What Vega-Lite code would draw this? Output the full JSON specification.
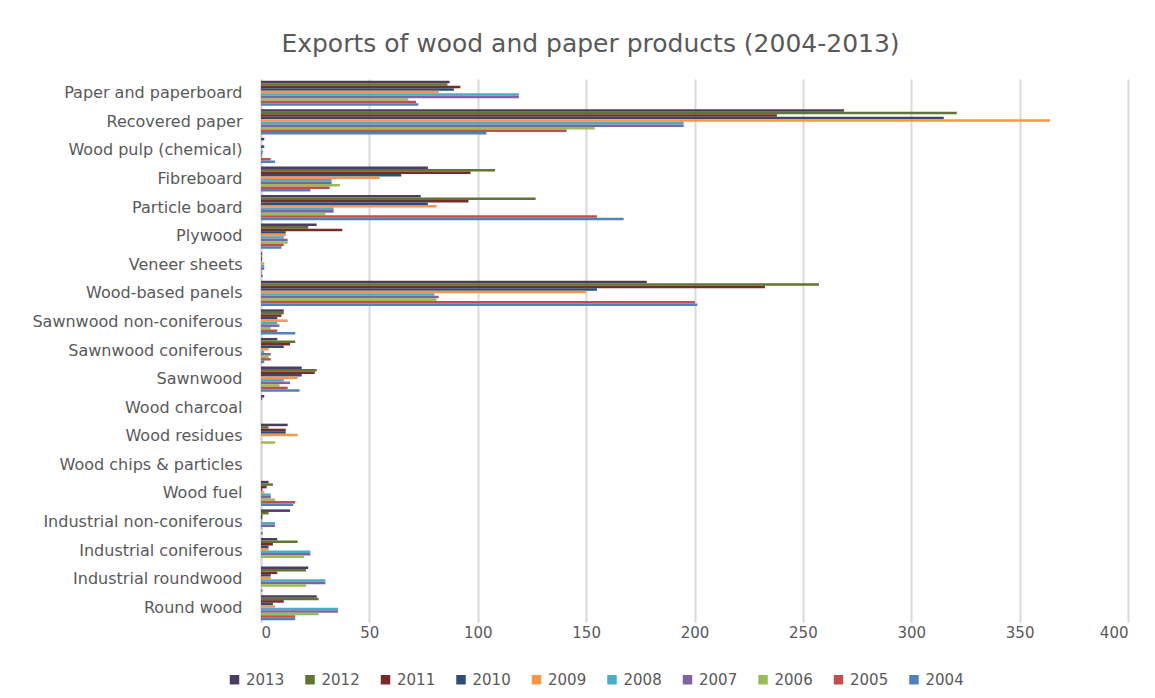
{
  "$schema": "https://vega.github.io/schema/vega-lite/v6.json",
  "width": 867,
  "height": 543,
  "autosize": {"type": "none"},
  "padding": {"left": 261, "top": 79, "right": 27, "bottom": 76},
  "background": "white",
  "title": {"text": "Exports of wood and paper products (2004-2013)", "fontSize": 25, "font": "DejaVu Sans", "fontWeight": "normal", "color": "#595959", "anchor": "middle", "dx": -104, "offset": 22},
  "data": {"values": [
    {"product": "Paper and paperboard", "year": "2013", "value": 87},
    {"product": "Paper and paperboard", "year": "2012", "value": 86},
    {"product": "Paper and paperboard", "year": "2011", "value": 92},
    {"product": "Paper and paperboard", "year": "2010", "value": 89},
    {"product": "Paper and paperboard", "year": "2009", "value": 82},
    {"product": "Paper and paperboard", "year": "2008", "value": 119},
    {"product": "Paper and paperboard", "year": "2007", "value": 119},
    {"product": "Paper and paperboard", "year": "2006", "value": 68},
    {"product": "Paper and paperboard", "year": "2005", "value": 71.5},
    {"product": "Paper and paperboard", "year": "2004", "value": 72.6},
    {"product": "Recovered paper", "year": "2013", "value": 269},
    {"product": "Recovered paper", "year": "2012", "value": 321},
    {"product": "Recovered paper", "year": "2011", "value": 238},
    {"product": "Recovered paper", "year": "2010", "value": 315},
    {"product": "Recovered paper", "year": "2009", "value": 364},
    {"product": "Recovered paper", "year": "2008", "value": 195},
    {"product": "Recovered paper", "year": "2007", "value": 195},
    {"product": "Recovered paper", "year": "2006", "value": 154},
    {"product": "Recovered paper", "year": "2005", "value": 141},
    {"product": "Recovered paper", "year": "2004", "value": 104},
    {"product": "Wood pulp (chemical)", "year": "2013", "value": 1.5},
    {"product": "Wood pulp (chemical)", "year": "2012", "value": 0},
    {"product": "Wood pulp (chemical)", "year": "2011", "value": 0},
    {"product": "Wood pulp (chemical)", "year": "2010", "value": 1.5},
    {"product": "Wood pulp (chemical)", "year": "2009", "value": 0.5},
    {"product": "Wood pulp (chemical)", "year": "2008", "value": 1},
    {"product": "Wood pulp (chemical)", "year": "2007", "value": 0.5},
    {"product": "Wood pulp (chemical)", "year": "2006", "value": 0.5},
    {"product": "Wood pulp (chemical)", "year": "2005", "value": 4.5},
    {"product": "Wood pulp (chemical)", "year": "2004", "value": 6.5},
    {"product": "Fibreboard", "year": "2013", "value": 77},
    {"product": "Fibreboard", "year": "2012", "value": 108},
    {"product": "Fibreboard", "year": "2011", "value": 96.7},
    {"product": "Fibreboard", "year": "2010", "value": 64.7},
    {"product": "Fibreboard", "year": "2009", "value": 54.8},
    {"product": "Fibreboard", "year": "2008", "value": 32.6},
    {"product": "Fibreboard", "year": "2007", "value": 32.6},
    {"product": "Fibreboard", "year": "2006", "value": 36.4},
    {"product": "Fibreboard", "year": "2005", "value": 31.7},
    {"product": "Fibreboard", "year": "2004", "value": 22.8},
    {"product": "Particle board", "year": "2013", "value": 73.7},
    {"product": "Particle board", "year": "2012", "value": 126.7},
    {"product": "Particle board", "year": "2011", "value": 95.7},
    {"product": "Particle board", "year": "2010", "value": 77},
    {"product": "Particle board", "year": "2009", "value": 81},
    {"product": "Particle board", "year": "2008", "value": 33.5},
    {"product": "Particle board", "year": "2007", "value": 33.5},
    {"product": "Particle board", "year": "2006", "value": 29.7},
    {"product": "Particle board", "year": "2005", "value": 155},
    {"product": "Particle board", "year": "2004", "value": 167.3},
    {"product": "Plywood", "year": "2013", "value": 25.7},
    {"product": "Plywood", "year": "2012", "value": 21.8},
    {"product": "Plywood", "year": "2011", "value": 37.5},
    {"product": "Plywood", "year": "2010", "value": 11.4},
    {"product": "Plywood", "year": "2009", "value": 11.4},
    {"product": "Plywood", "year": "2008", "value": 10.5},
    {"product": "Plywood", "year": "2007", "value": 12.3},
    {"product": "Plywood", "year": "2006", "value": 12.3},
    {"product": "Plywood", "year": "2005", "value": 10.5},
    {"product": "Plywood", "year": "2004", "value": 9.4},
    {"product": "Veneer sheets", "year": "2013", "value": 0.5},
    {"product": "Veneer sheets", "year": "2012", "value": 0.3},
    {"product": "Veneer sheets", "year": "2011", "value": 0.5},
    {"product": "Veneer sheets", "year": "2010", "value": 0.3},
    {"product": "Veneer sheets", "year": "2009", "value": 1.5},
    {"product": "Veneer sheets", "year": "2008", "value": 1.5},
    {"product": "Veneer sheets", "year": "2007", "value": 1.5},
    {"product": "Veneer sheets", "year": "2006", "value": 0.5},
    {"product": "Veneer sheets", "year": "2005", "value": 0.3},
    {"product": "Veneer sheets", "year": "2004", "value": 0.8},
    {"product": "Wood-based panels", "year": "2013", "value": 178},
    {"product": "Wood-based panels", "year": "2012", "value": 257.4},
    {"product": "Wood-based panels", "year": "2011", "value": 232.5},
    {"product": "Wood-based panels", "year": "2010", "value": 155},
    {"product": "Wood-based panels", "year": "2009", "value": 150},
    {"product": "Wood-based panels", "year": "2008", "value": 80},
    {"product": "Wood-based panels", "year": "2007", "value": 82},
    {"product": "Wood-based panels", "year": "2006", "value": 81},
    {"product": "Wood-based panels", "year": "2005", "value": 200.2},
    {"product": "Wood-based panels", "year": "2004", "value": 201.3},
    {"product": "Sawnwood non-coniferous", "year": "2013", "value": 10.5},
    {"product": "Sawnwood non-coniferous", "year": "2012", "value": 10.5},
    {"product": "Sawnwood non-coniferous", "year": "2011", "value": 9.4},
    {"product": "Sawnwood non-coniferous", "year": "2010", "value": 7.5},
    {"product": "Sawnwood non-coniferous", "year": "2009", "value": 12.3},
    {"product": "Sawnwood non-coniferous", "year": "2008", "value": 7.5},
    {"product": "Sawnwood non-coniferous", "year": "2007", "value": 8.5},
    {"product": "Sawnwood non-coniferous", "year": "2006", "value": 4.5},
    {"product": "Sawnwood non-coniferous", "year": "2005", "value": 7.5},
    {"product": "Sawnwood non-coniferous", "year": "2004", "value": 15.8},
    {"product": "Sawnwood coniferous", "year": "2013", "value": 7.5},
    {"product": "Sawnwood coniferous", "year": "2012", "value": 15.8},
    {"product": "Sawnwood coniferous", "year": "2011", "value": 13.4},
    {"product": "Sawnwood coniferous", "year": "2010", "value": 10.5},
    {"product": "Sawnwood coniferous", "year": "2009", "value": 3.5},
    {"product": "Sawnwood coniferous", "year": "2008", "value": 1.5},
    {"product": "Sawnwood coniferous", "year": "2007", "value": 4.5},
    {"product": "Sawnwood coniferous", "year": "2006", "value": 3.5},
    {"product": "Sawnwood coniferous", "year": "2005", "value": 4.5},
    {"product": "Sawnwood coniferous", "year": "2004", "value": 1.5},
    {"product": "Sawnwood", "year": "2013", "value": 18.8},
    {"product": "Sawnwood", "year": "2012", "value": 25.7},
    {"product": "Sawnwood", "year": "2011", "value": 24.8},
    {"product": "Sawnwood", "year": "2010", "value": 18.8},
    {"product": "Sawnwood", "year": "2009", "value": 16.9},
    {"product": "Sawnwood", "year": "2008", "value": 10.5},
    {"product": "Sawnwood", "year": "2007", "value": 13.4},
    {"product": "Sawnwood", "year": "2006", "value": 8.5},
    {"product": "Sawnwood", "year": "2005", "value": 12.3},
    {"product": "Sawnwood", "year": "2004", "value": 17.8},
    {"product": "Wood charcoal", "year": "2013", "value": 1.5},
    {"product": "Wood charcoal", "year": "2012", "value": 0.5},
    {"product": "Wood charcoal", "year": "2011", "value": 0},
    {"product": "Wood charcoal", "year": "2010", "value": 0},
    {"product": "Wood charcoal", "year": "2009", "value": 0},
    {"product": "Wood charcoal", "year": "2008", "value": 0},
    {"product": "Wood charcoal", "year": "2007", "value": 0},
    {"product": "Wood charcoal", "year": "2006", "value": 0},
    {"product": "Wood charcoal", "year": "2005", "value": 0},
    {"product": "Wood charcoal", "year": "2004", "value": 0},
    {"product": "Wood residues", "year": "2013", "value": 12.3},
    {"product": "Wood residues", "year": "2012", "value": 3.5},
    {"product": "Wood residues", "year": "2011", "value": 11.4},
    {"product": "Wood residues", "year": "2010", "value": 11.4},
    {"product": "Wood residues", "year": "2009", "value": 16.9},
    {"product": "Wood residues", "year": "2008", "value": 0},
    {"product": "Wood residues", "year": "2007", "value": 0},
    {"product": "Wood residues", "year": "2006", "value": 6.5},
    {"product": "Wood residues", "year": "2005", "value": 0},
    {"product": "Wood residues", "year": "2004", "value": 0},
    {"product": "Wood chips & particles", "year": "2013", "value": 0},
    {"product": "Wood chips & particles", "year": "2012", "value": 0},
    {"product": "Wood chips & particles", "year": "2011", "value": 0},
    {"product": "Wood chips & particles", "year": "2010", "value": 0},
    {"product": "Wood chips & particles", "year": "2009", "value": 0},
    {"product": "Wood chips & particles", "year": "2008", "value": 0},
    {"product": "Wood chips & particles", "year": "2007", "value": 0},
    {"product": "Wood chips & particles", "year": "2006", "value": 0},
    {"product": "Wood chips & particles", "year": "2005", "value": 0},
    {"product": "Wood chips & particles", "year": "2004", "value": 0},
    {"product": "Wood fuel", "year": "2013", "value": 3.5},
    {"product": "Wood fuel", "year": "2012", "value": 5.5},
    {"product": "Wood fuel", "year": "2011", "value": 2.6},
    {"product": "Wood fuel", "year": "2010", "value": 0.6},
    {"product": "Wood fuel", "year": "2009", "value": 1.5},
    {"product": "Wood fuel", "year": "2008", "value": 4.5},
    {"product": "Wood fuel", "year": "2007", "value": 4.5},
    {"product": "Wood fuel", "year": "2006", "value": 6.5},
    {"product": "Wood fuel", "year": "2005", "value": 15.8},
    {"product": "Wood fuel", "year": "2004", "value": 14.9},
    {"product": "Industrial non-coniferous", "year": "2013", "value": 13.4},
    {"product": "Industrial non-coniferous", "year": "2012", "value": 3.5},
    {"product": "Industrial non-coniferous", "year": "2011", "value": 0.6},
    {"product": "Industrial non-coniferous", "year": "2010", "value": 0.6},
    {"product": "Industrial non-coniferous", "year": "2009", "value": 0.5},
    {"product": "Industrial non-coniferous", "year": "2008", "value": 6.5},
    {"product": "Industrial non-coniferous", "year": "2007", "value": 6.5},
    {"product": "Industrial non-coniferous", "year": "2006", "value": 0.5},
    {"product": "Industrial non-coniferous", "year": "2005", "value": 0},
    {"product": "Industrial non-coniferous", "year": "2004", "value": 0.8},
    {"product": "Industrial coniferous", "year": "2013", "value": 7.5},
    {"product": "Industrial coniferous", "year": "2012", "value": 16.9},
    {"product": "Industrial coniferous", "year": "2011", "value": 5.5},
    {"product": "Industrial coniferous", "year": "2010", "value": 3.5},
    {"product": "Industrial coniferous", "year": "2009", "value": 3.5},
    {"product": "Industrial coniferous", "year": "2008", "value": 22.8},
    {"product": "Industrial coniferous", "year": "2007", "value": 22.8},
    {"product": "Industrial coniferous", "year": "2006", "value": 19.8},
    {"product": "Industrial coniferous", "year": "2005", "value": 0},
    {"product": "Industrial coniferous", "year": "2004", "value": 0},
    {"product": "Industrial roundwood", "year": "2013", "value": 21.8},
    {"product": "Industrial roundwood", "year": "2012", "value": 20.8},
    {"product": "Industrial roundwood", "year": "2011", "value": 7.5},
    {"product": "Industrial roundwood", "year": "2010", "value": 4.5},
    {"product": "Industrial roundwood", "year": "2009", "value": 4.5},
    {"product": "Industrial roundwood", "year": "2008", "value": 29.7},
    {"product": "Industrial roundwood", "year": "2007", "value": 29.7},
    {"product": "Industrial roundwood", "year": "2006", "value": 20.8},
    {"product": "Industrial roundwood", "year": "2005", "value": 0},
    {"product": "Industrial roundwood", "year": "2004", "value": 0.6},
    {"product": "Round wood", "year": "2013", "value": 25.7},
    {"product": "Round wood", "year": "2012", "value": 26.6},
    {"product": "Round wood", "year": "2011", "value": 10.5},
    {"product": "Round wood", "year": "2010", "value": 5.5},
    {"product": "Round wood", "year": "2009", "value": 6.5},
    {"product": "Round wood", "year": "2008", "value": 35.5},
    {"product": "Round wood", "year": "2007", "value": 35.5},
    {"product": "Round wood", "year": "2006", "value": 26.6},
    {"product": "Round wood", "year": "2005", "value": 15.8},
    {"product": "Round wood", "year": "2004", "value": 15.8}
  ]},
  "mark": {"type": "bar"},
  "encoding": {
    "y": {
      "field": "product", "type": "nominal",
      "sort": ["Paper and paperboard", "Recovered paper", "Wood pulp (chemical)", "Fibreboard", "Particle board", "Plywood", "Veneer sheets", "Wood-based panels", "Sawnwood non-coniferous", "Sawnwood coniferous", "Sawnwood", "Wood charcoal", "Wood residues", "Wood chips & particles", "Wood fuel", "Industrial non-coniferous", "Industrial coniferous", "Industrial roundwood", "Round wood"],
      "scale": {"paddingInner": 0.12, "paddingOuter": 0.06},
      "axis": {"title": null, "domain": true, "domainColor": "#d9d9d9", "domainWidth": 2, "ticks": false, "grid": false, "labelPadding": 19, "labelFontSize": 16, "labelLimit": 400, "labelColor": "#595959", "labelFont": "DejaVu Sans"}
    },
    "yOffset": {
      "field": "year", "type": "nominal",
      "scale": {"domain": ["2013", "2012", "2011", "2010", "2009", "2008", "2007", "2006", "2005", "2004"]}
    },
    "x": {
      "field": "value", "type": "quantitative",
      "scale": {"domain": [0, 400]},
      "axis": {"title": null, "domain": false, "ticks": false, "grid": true, "gridColor": "#d9d9d9", "gridWidth": 2, "values": [0, 50, 100, 150, 200, 250, 300, 350, 400], "labelPadding": 3, "labelFontSize": 15, "labelColor": "#595959", "labelFont": "DejaVu Sans"}
    },
    "color": {
      "field": "year", "type": "nominal",
      "scale": {"domain": ["2013", "2012", "2011", "2010", "2009", "2008", "2007", "2006", "2005", "2004"],
                "range": ["#4D3B62", "#5F7530", "#772C2A", "#2C4D75", "#F79646", "#4BACC6", "#8064A2", "#9BBB59", "#C0504D", "#4F81BD"]},
      "legend": {"orient": "none", "legendX": -34, "legendY": 593, "direction": "horizontal", "columns": 10, "title": null, "symbolType": "square", "symbolSize": 90, "symbolStrokeWidth": 0, "labelFontSize": 15, "labelColor": "#595959", "labelFont": "DejaVu Sans", "columnPadding": 17.5}
    }
  },
  "config": {"view": {"stroke": null}, "font": "DejaVu Sans"}
}
